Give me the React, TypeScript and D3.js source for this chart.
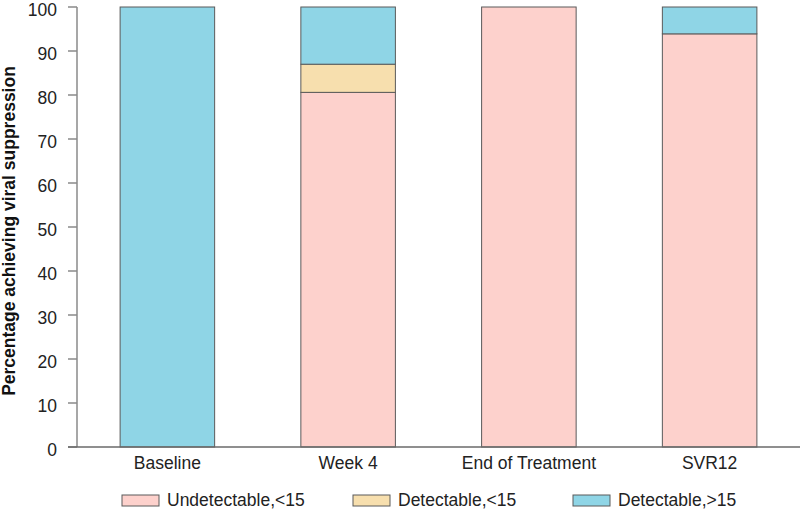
import React from "react";
import * as d3 from "d3";

const categories = ["Baseline", "Week 4", "End of Treatment", "SVR12"];
const seriesNames = ["Undetectable,<15", "Detectable,<15", "Detectable,>15"];
const undetectable = [0, 80.6, 100, 93.9];
const detectableLow = [0, 6.4, 0, 0];
const detectableHigh = [100, 13.0, 0, 6.1];
const yTicks = [0, 10, 20, 30, 40, 50, 60, 70, 80, 90, 100];
const colors = ["#fdd1cc", "#f7dfae", "#8fd5e6"];

const W = 800;
const H = 510;
const left = 77;
const right = 800;
const top = 7;
const bottom = 447;

export default function App() {
  const rows = categories.map((c, i) => ({
    cat: c,
    s0: undetectable[i],
    s1: detectableLow[i],
    s2: detectableHigh[i],
  }));
  const stack = d3.stack<any>().keys(["s0", "s1", "s2"])(rows);
  const x = d3.scaleBand().domain(categories).range([left, right]).paddingInner(0.477).paddingOuter(0.2385);
  const y = d3.scaleLinear().domain([0, 100]).range([bottom, top]);
  const font = "'Liberation Sans', Arial, Helvetica, sans-serif";
  const legendX = [122, 353, 573];

  return (
    <svg width={W} height={H} style={{ position: "absolute", left: 0, top: 0 }} fontFamily={font}>
      <rect x={0} y={0} width={W} height={H} fill="#fff" />
      {stack.map((layer, li) => (
        <g key={li}>
          {layer.map((d, i) =>
            d[1] - d[0] > 0 ? (
              <rect
                key={i}
                x={x(categories[i])!}
                y={y(d[1])}
                width={x.bandwidth()}
                height={y(d[0]) - y(d[1])}
                fill={colors[li]}
                stroke="#5a5a5a"
                strokeWidth={1}
              />
            ) : null
          )}
        </g>
      ))}
      {/* y axis */}
      <line x1={left} x2={left} y1={top} y2={bottom} stroke="#8a8a8a" strokeWidth={1.5} />
      {yTicks.map((t) => (
        <g key={t}>
          <line x1={left - 9} x2={left} y1={y(t)} y2={y(t)} stroke="#8a8a8a" strokeWidth={1.5} />
          <text x={left - 20} y={y(t)} dy="0.5em" textAnchor="end" fontSize={17.5} fill="#222">
            {t}
          </text>
        </g>
      ))}
      {/* x axis */}
      <line x1={left - 9} x2={right} y1={bottom} y2={bottom} stroke="#6a6a6a" strokeWidth={1.5} />
      {categories.map((c) => (
        <text key={c} x={x(c)! + x.bandwidth() / 2} y={463} dy="0.36em" textAnchor="middle" fontSize={17.5} fill="#222">
          {c}
        </text>
      ))}
      <text
        transform={`translate(15, 231) rotate(-90)`}
        textAnchor="middle"
        fontSize={17.5}
        fontWeight="bold"
        fill="#111"
      >
        Percentage achieving viral suppression
      </text>
      {seriesNames.map((s, i) => (
        <g key={s}>
          <rect x={legendX[i]} y={495} width={37} height={11} fill={colors[i]} stroke="#5a5a5a" strokeWidth={1} />
          <text x={legendX[i] + 45} y={500} dy="0.36em" fontSize={17.5} fill="#222">
            {s}
          </text>
        </g>
      ))}
    </svg>
  );
}
